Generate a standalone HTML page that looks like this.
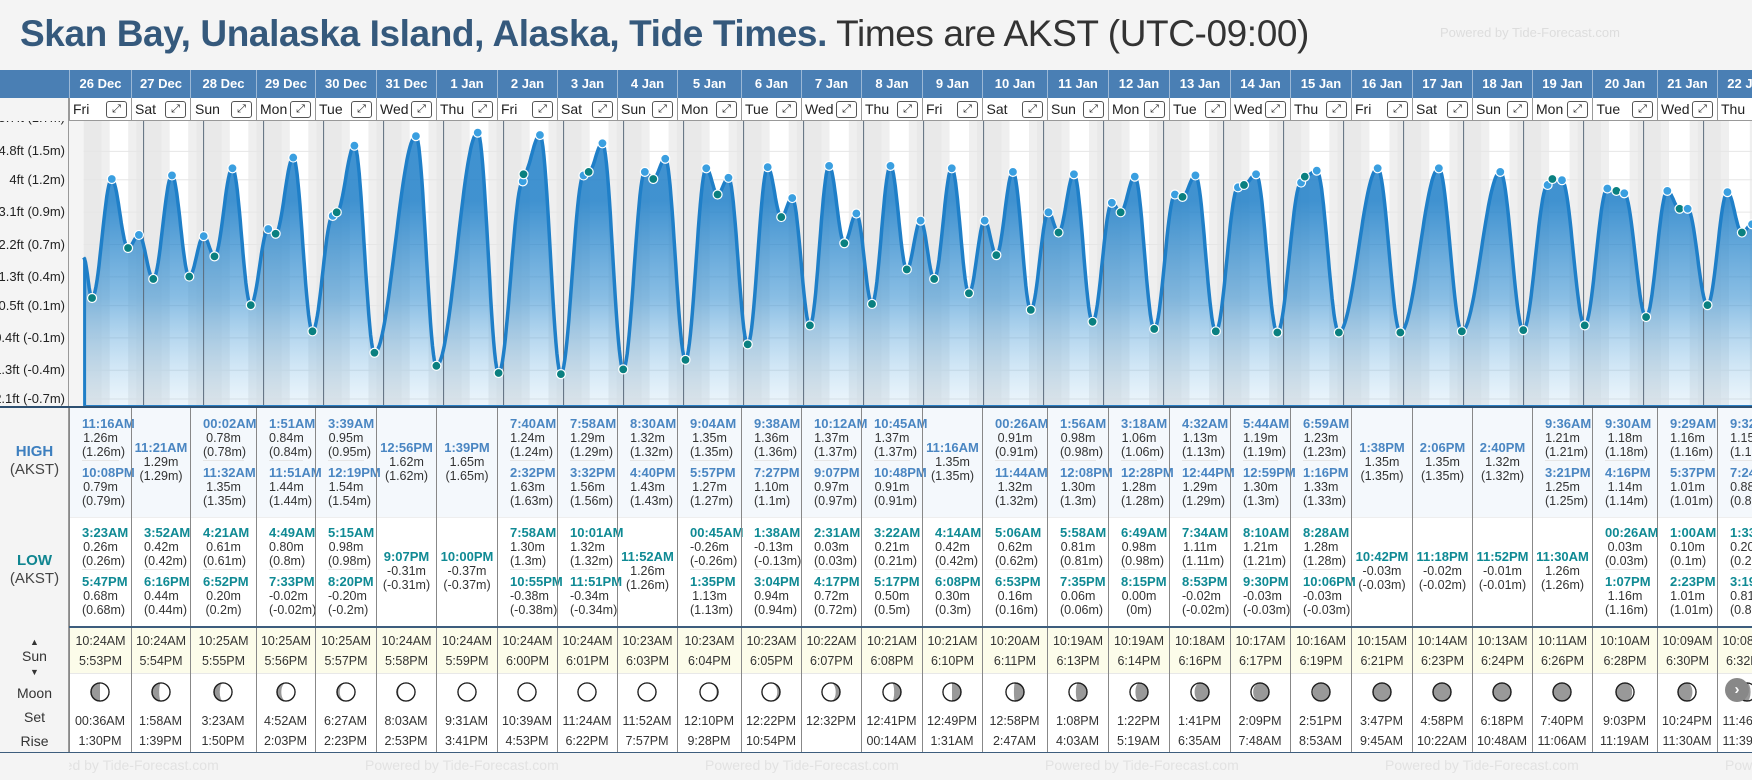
<!DOCTYPE html>
<html><head><meta charset="utf-8">
<style>
*{margin:0;padding:0;box-sizing:border-box}
body{width:1752px;height:780px;background:#f4f4f4;font-family:"Liberation Sans",sans-serif;overflow:hidden;position:relative}
.abs{position:absolute}
#title{left:20px;top:13px;font-size:37px;white-space:nowrap;color:#333;letter-spacing:-0.4px}
#title b{color:#35597c}
#pw{left:1440px;top:25px;font-size:13px;color:#ddd}
.t{font-weight:bold;font-size:13px}
</style></head><body>
<div id="title" class="abs"><b>Skan Bay, Unalaska Island, Alaska, Tide Times.</b> Times are AKST (UTC-09:00)</div>
<div id="pw" class="abs">Powered by Tide-Forecast.com</div>
<div class="abs" style="left:0;top:70px;width:69px;height:28px;background:#4a7fb4"></div>
<div class="abs" style="left:0;top:98px;width:69px;height:310px;background:#f4f4f4;border-right:1px solid #999;overflow:hidden" id="yax"></div>
<svg id="chart" class="abs" style="left:69px;top:121px" width="1683" height="287"></svg>
<div id="tbl" class="abs" style="left:0;top:0;width:1752px;height:780px;pointer-events:none"></div>
<script>
const days=["26 Dec","27 Dec","28 Dec","29 Dec","30 Dec","31 Dec","1 Jan","2 Jan","3 Jan","4 Jan","5 Jan","6 Jan","7 Jan","8 Jan","9 Jan","10 Jan","11 Jan","12 Jan","13 Jan","14 Jan","15 Jan","16 Jan","17 Jan","18 Jan","19 Jan","20 Jan","21 Jan","22 Jan"];
const wdays=["Fri","Sat","Sun","Mon","Tue","Wed","Thu","Fri","Sat","Sun","Mon","Tue","Wed","Thu","Fri","Sat","Sun","Mon","Tue","Wed","Thu","Fri","Sat","Sun","Mon","Tue","Wed","Thu"];
const highs=[[["11:16AM",1.26],["10:08PM",0.79]],[["11:21AM",1.29]],[["00:02AM",0.78],["11:32AM",1.35]],[["1:51AM",0.84],["11:51AM",1.44]],[["3:39AM",0.95],["12:19PM",1.54]],[["12:56PM",1.62]],[["1:39PM",1.65]],[["7:40AM",1.24],["2:32PM",1.63]],[["7:58AM",1.29],["3:32PM",1.56]],[["8:30AM",1.32],["4:40PM",1.43]],[["9:04AM",1.35],["5:57PM",1.27]],[["9:38AM",1.36],["7:27PM",1.10]],[["10:12AM",1.37],["9:07PM",0.97]],[["10:45AM",1.37],["10:48PM",0.91]],[["11:16AM",1.35]],[["00:26AM",0.91],["11:44AM",1.32]],[["1:56AM",0.98],["12:08PM",1.30]],[["3:18AM",1.06],["12:28PM",1.28]],[["4:32AM",1.13],["12:44PM",1.29]],[["5:44AM",1.19],["12:59PM",1.30]],[["6:59AM",1.23],["1:16PM",1.33]],[["1:38PM",1.35]],[["2:06PM",1.35]],[["2:40PM",1.32]],[["9:36AM",1.21],["3:21PM",1.25]],[["9:30AM",1.18],["4:16PM",1.14]],[["9:29AM",1.16],["5:37PM",1.01]],[["9:32AM",1.15],["7:24PM",0.88]]];
const lows=[[["3:23AM",0.26],["5:47PM",0.68]],[["3:52AM",0.42],["6:16PM",0.44]],[["4:21AM",0.61],["6:52PM",0.20]],[["4:49AM",0.80],["7:33PM",-0.02]],[["5:15AM",0.98],["8:20PM",-0.20]],[["9:07PM",-0.31]],[["10:00PM",-0.37]],[["7:58AM",1.30],["10:55PM",-0.38]],[["10:01AM",1.32],["11:51PM",-0.34]],[["11:52AM",1.26]],[["00:45AM",-0.26],["1:35PM",1.13]],[["1:38AM",-0.13],["3:04PM",0.94]],[["2:31AM",0.03],["4:17PM",0.72]],[["3:22AM",0.21],["5:17PM",0.50]],[["4:14AM",0.42],["6:08PM",0.30]],[["5:06AM",0.62],["6:53PM",0.16]],[["5:58AM",0.81],["7:35PM",0.06]],[["6:49AM",0.98],["8:15PM",0.00]],[["7:34AM",1.11],["8:53PM",-0.02]],[["8:10AM",1.21],["9:30PM",-0.03]],[["8:28AM",1.28],["10:06PM",-0.03]],[["10:42PM",-0.03]],[["11:18PM",-0.02]],[["11:52PM",-0.01]],[["11:30AM",1.26]],[["00:26AM",0.03],["1:07PM",1.16]],[["1:00AM",0.10],["2:23PM",1.01]],[["1:33AM",0.20],["3:19PM",0.81]]];
const sunrise=["10:24AM","10:24AM","10:25AM","10:25AM","10:25AM","10:24AM","10:24AM","10:24AM","10:24AM","10:23AM","10:23AM","10:23AM","10:22AM","10:21AM","10:21AM","10:20AM","10:19AM","10:19AM","10:18AM","10:17AM","10:16AM","10:15AM","10:14AM","10:13AM","10:11AM","10:10AM","10:09AM","10:08AM"];
const sunset=["5:53PM","5:54PM","5:55PM","5:56PM","5:57PM","5:58PM","5:59PM","6:00PM","6:01PM","6:03PM","6:04PM","6:05PM","6:07PM","6:08PM","6:10PM","6:11PM","6:13PM","6:14PM","6:16PM","6:17PM","6:19PM","6:21PM","6:23PM","6:24PM","6:26PM","6:28PM","6:30PM","6:32PM"];
const moonSet=["00:36AM","1:58AM","3:23AM","4:52AM","6:27AM","8:03AM","9:31AM","10:39AM","11:24AM","11:52AM","12:10PM","12:22PM","12:32PM","12:41PM","12:49PM","12:58PM","1:08PM","1:22PM","1:41PM","2:09PM","2:51PM","3:47PM","4:58PM","6:18PM","7:40PM","9:03PM","10:24PM","11:46PM"];
const moonRise=["1:30PM","1:39PM","1:50PM","2:03PM","2:23PM","2:53PM","3:41PM","4:53PM","6:22PM","7:57PM","9:28PM","10:54PM","","00:14AM","1:31AM","2:47AM","4:03AM","5:19AM","6:35AM","7:48AM","8:53AM","9:45AM","10:22AM","10:48AM","11:06AM","11:19AM","11:30AM","11:39AM"];
const moonLit=[0.5,0.6,0.68,0.76,0.85,0.93,1,1,0.99,0.97,0.92,0.85,0.76,0.62,0.5,0.44,0.38,0.3,0.2,0.12,0.05,0,0,0,0.03,0.1,0.2,0.3];
const moonWaxing=[1,1,1,1,1,1,1,0,0,0,0,0,0,0,0,0,0,0,0,0,0,0,0,1,1,1,1,1];
const yTicksFt=["5.7ft (1.7m)","4.8ft (1.5m)","4ft (1.2m)","3.1ft (0.9m)","2.2ft (0.7m)","1.3ft (0.4m)","0.5ft (0.1m)","-0.4ft (-0.1m)","-1.3ft (-0.4m)","-2.1ft (-0.7m)"];
const yTickM=[1.74,1.46,1.22,0.945,0.67,0.396,0.152,-0.122,-0.396,-0.64];
</script>
<script>
const NS="http://www.w3.org/2000/svg";
const colB=[69,131,190,256,315,376,436,497,557,617,677,741,801,861,922,982,1047,1108,1169,1230,1290,1351,1412,1472,1532,1592,1657,1717,1777];
const X0=83.6-69, PXD=60, CT=121;
function tx(d){return X0+d*PXD;}
function ym(m){return (298-(m-0.26)*119)-CT;}
function yTickPos(m){return 399-(m+0.64)*117.9-CT;}
function hrs(s){const m=s.match(/(\d+):(\d+)(AM|PM)/);let h=+m[1]%12;if(m[3]=="PM")h+=12;return (h+ +m[2]/60)/24;}
const svg=document.getElementById('chart');
function el(n,a,p){const e=document.createElementNS(NS,n);for(const k in a)e.setAttribute(k,a[k]);(p||svg).appendChild(e);return e;}
const defs=el('defs',{});
const g=el('linearGradient',{id:'fg',x1:0,y1:0,x2:0,y2:1},defs);
el('stop',{offset:'0.25','stop-color':'#1f7fc8','stop-opacity':'0.85'},g);
el('stop',{offset:'0.6','stop-color':'#3a92d2','stop-opacity':'0.6'},g);
el('stop',{offset:'1','stop-color':'#8cc4ea','stop-opacity':'0.15'},g);
el('rect',{x:0,y:0,width:1683,height:287,fill:'#fff'});
days.forEach((d,i)=>{
  const a=tx(i),sr=tx(i+hrs(sunrise[i])),ss=tx(i+hrs(sunset[i])),b=tx(i+1);
  let r=el('rect',{x:a,y:0,width:sr-a,height:287,fill:'#e9e9e9'});
  
  el('rect',{x:ss,y:0,width:b-ss,height:287,fill:'#e9e9e9'});
  el('rect',{x:sr-8,y:0,width:8,height:287,fill:'#efefef'});
  el('rect',{x:ss,y:0,width:8,height:287,fill:'#efefef'});
});
el('rect',{x:0,y:0,width:X0,height:287,fill:'#f4f4f4'});
yTickM.forEach(m=>{el('line',{x1:X0,x2:1683,y1:yTickPos(m),y2:yTickPos(m),stroke:'#e6e6e6','stroke-width':1});});
const ext=[{t:0,m:0.6,dot:0}];
days.forEach((d,i)=>{highs[i].forEach(h=>ext.push({t:i+hrs(h[0]),m:h[1],dot:1}));lows[i].forEach(l=>ext.push({t:i+hrs(l[0]),m:l[1],dot:2}));});
ext.sort((a,b)=>a.t-b.t);
let pts=[];
for(let k=0;k<ext.length-1;k++){const A=ext[k],B=ext[k+1];const x0=tx(A.t),x1=tx(B.t);const n=Math.max(2,Math.ceil(x1-x0));
  for(let j=0;j<n;j++){const u=j/n;pts.push([x0+(x1-x0)*u,ym(A.m+(B.m-A.m)*(1-Math.cos(Math.PI*u))/2)]);}}
const L=ext[ext.length-1];pts.push([tx(L.t),ym(L.m)]);pts.push([tx(L.t)+20,ym(L.m-0.05)]);
const line=pts.map((p,i)=>(i?'L':'M')+p[0].toFixed(1)+' '+p[1].toFixed(1)).join('');
const area=el('path',{d:line+`L${pts[pts.length-1][0]} 287L${pts[0][0]} 287Z`,fill:'url(#fg)'});

for(let i=1;i<28;i++){el('line',{x1:tx(i),x2:tx(i),y1:0,y2:287,stroke:'#5b6b7b','stroke-width':1});}
const cl=el('path',{d:line,fill:'none',stroke:'#1f7fc8','stroke-width':3.5});

el('line',{x1:X0+1,x2:X0+1,y1:ym(0.6),y2:287,stroke:'#1f7fc8','stroke-width':3});
ext.forEach(e=>{if(!e.dot)return;const c=el('circle',{cx:tx(e.t),cy:ym(e.m),r:4.5,fill:e.dot==1?'#3a9fe0':'#0a8080',stroke:'#fff','stroke-width':1.2});
  });
el('rect',{x:X0,y:284,width:1683,height:3,fill:'#2a7fc4'});
const yax=document.getElementById('yax');
yTicksFt.forEach((s,i)=>{const d=document.createElement('div');d.textContent=s;
  
  
  d.style.cssText=`position:absolute;right:3px;top:${yTickPos(yTickM[i])+CT-98-8}px;font-size:13px;color:#222;white-space:nowrap`;yax.appendChild(d);});
const cover=document.createElement('div');cover.style.cssText='position:absolute;left:0;top:0;width:69px;height:23px;background:#f4f4f4';yax.appendChild(cover);
const tbl=document.getElementById('tbl');
function div(css,html,name,inter){const d=document.createElement('div');d.style.cssText=css;if(html!=null)d.innerHTML=html;
  
  
  tbl.appendChild(d);return d;}
div('position:absolute;left:0;top:406px;width:1752px;height:2px;background:#2d4f70','', 'table-top-border');
div('position:absolute;left:0;top:408px;width:1752px;height:109px;background:#f4f8fc','', 'high-row-bg');
div('position:absolute;left:0;top:517px;width:1752px;height:109px;background:#fff;border-top:1px solid #eee','', 'low-row-bg');
div('position:absolute;left:0;top:626px;width:1752px;height:2px;background:#3d5d7d','', 'sun-row-border');
div('position:absolute;left:0;top:628px;width:1752px;height:45px;background:#fcfcea','', 'sun-row-bg');
div('position:absolute;left:0;top:673px;width:1752px;height:79px;background:#fff;border-top:1px solid #e8e8e8','', 'moon-row-bg');
div('position:absolute;left:0;top:752px;width:1752px;height:1px;background:#3d5d7d','', 'table-bottom-border');
div('position:absolute;left:0;top:408px;width:69px;height:344px;background:#f4f4f4;border-right:1px solid #999','', 'row-label-panel');
div('position:absolute;left:0;top:443px;width:69px;text-align:center;font-size:15px;line-height:18px;color:#444','<b style="color:#3d7fbf">HIGH</b><br>(AKST)','high-label');
div('position:absolute;left:0;top:552px;width:69px;text-align:center;font-size:15px;line-height:18px;color:#444','<b style="color:#0f8590">LOW</b><br>(AKST)','low-label');
div('position:absolute;left:0;top:634px;width:69px;text-align:center;font-size:14px;line-height:12px;color:#333','<span style="font-size:9px">▲</span><br><span style="line-height:16px">Sun</span><br><span style="font-size:9px">▼</span>','sun-label');
div('position:absolute;left:0;top:683px;width:69px;text-align:center;font-size:14px;line-height:20px;color:#333','Moon<br><span style="line-height:28px">Set</span><br>Rise','moon-label');
function entries(list,col,top,h){
  if(list.length==1){const e=list[0];return `<div style="position:absolute;left:0;right:0;top:${top+h/2-22}px;line-height:14px"><span class="t" style="color:${col}">${e[0]}</span><br>${e[1].toFixed(2)}m<br>(${+e[1].toFixed(2)}m)</div>`;}
  return list.map((e,k)=>`<div style="position:absolute;left:12px;right:12px;top:${top+9+k*49}px;line-height:14px;${k?'border-top:1px solid #e6e6e6;padding-top:5px;margin-top:-6px':''}"><span class="t" style="color:${col}">${e[0]}</span><br>${e[1].toFixed(2)}m<br>(${+e[1].toFixed(2)}m)</div>`).join('');
}
days.forEach((d,i)=>{
  const x=colB[i],w=colB[i+1]-colB[i];
  div(`position:absolute;left:${x}px;top:70px;width:${w}px;height:28px;background:#4a7fb4;color:#fff;font-weight:bold;font-size:13px;text-align:center;line-height:28px;border-left:1px solid #9bb8d6`,d,'date-header');
  div(`position:absolute;left:${x}px;top:98px;width:${w}px;height:23px;background:#fff;font-size:14px;line-height:23px;border-left:1px solid #999;border-bottom:1px solid #999;color:#222;padding-left:${Math.max(3,(w-26)/2-16)}px`,wdays[i]+`<span style="position:absolute;right:4px;top:3px;width:21px;height:17px;border:1px solid #555;border-radius:3px;font-size:11px;line-height:15px;text-align:center">⤢</span>`,'day-expand-button',true);
  div(`position:absolute;left:${x}px;top:408px;width:${w}px;height:218px;border-left:1px solid #888;text-align:center;font-size:12.5px;color:#333`,
     entries(highs[i],'#4a86c2',0,109)+entries(lows[i],'#0f8a94',109,109),'tide-day-cell');
  div(`position:absolute;left:${x}px;top:628px;width:${w}px;height:124px;border-left:1px solid #888;text-align:center;font-size:12.5px;color:#333;line-height:20px;padding-top:3px`,
     `${sunrise[i]}<br>${sunset[i]}<div style="height:66px"></div>`,'sun-moon-cell');
  const cx=x+w/2,cy=692,r=9,lit=moonLit[i],s=moonWaxing[i]?1:-1;
  const rx=Math.abs(1-2*lit)*r;const sw1=s==1?1:0,sw2=((lit>0.5)===(s==1))?1:0;
  const path=lit>=0.999?'':`M${r+1} 1A${r} ${r} 0 0 ${sw1} ${r+1} ${2*r+1}A${rx} ${r} 0 0 ${sw2} ${r+1} 1Z`;
  div(`position:absolute;left:${cx-r-1}px;top:${cy-r-1}px;width:${2*r+2}px;height:${2*r+2}px`,
     `<svg width="${2*r+2}" height="${2*r+2}"><circle cx="${r+1}" cy="${r+1}" r="${r}" fill="#999" stroke="#222" stroke-width="1.3"/>${lit>0.001?`<path d="${lit>=0.999?`M${r+1} 1A${r} ${r} 0 1 1 ${r+1} ${2*r+1}A${r} ${r} 0 1 1 ${r+1} 1Z`:path}" fill="#fff"/>`:''}<circle cx="${r+1}" cy="${r+1}" r="${r}" fill="none" stroke="#222" stroke-width="1.3"/></svg>`,'moon-phase-icon');
  div(`position:absolute;left:${x}px;top:711px;width:${w}px;text-align:center;font-size:12.5px;color:#333;line-height:20px`,`${moonSet[i]}<br>${moonRise[i]}`,'moon-set-rise');
});
let f='';for(let k=0;k<6;k++)f+=`<span style="position:absolute;left:${25+k*340}px;white-space:nowrap">Powered by Tide-Forecast.com</span>`;
div('position:absolute;left:69px;top:757px;width:1683px;height:20px;overflow:hidden;font-size:14px;color:#e2e2e2',`<div style="position:absolute;left:-69px;top:0;width:2100px">${f}</div>`,'footer-credit');
div('position:absolute;left:1725px;top:678px;width:24px;height:24px;border-radius:12px;background:#888;color:#fff;text-align:center;line-height:24px;font-weight:bold;font-size:15px','›','scroll-right-button',true);
</script>
</body></html>
